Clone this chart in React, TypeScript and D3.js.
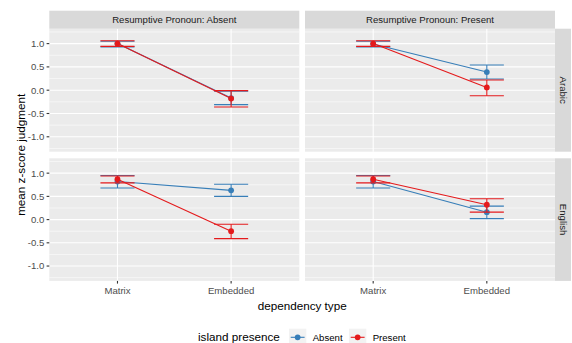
import React from 'react';
import { scaleLinear, scalePoint, line } from 'd3';

// facets
const rpLevels = ['Absent', 'Present']; // columns: Resumptive Pronoun
const languages = ['Arabic', 'English']; // rows
const dependencyTypes = ['Matrix', 'Embedded'];
const islandLevels = ['Absent', 'Present'];
const yTicks = [-1.0, -0.5, 0.0, 0.5, 1.0];
const yMinor = [-1.25, -0.75, -0.25, 0.25, 0.75, 1.25];

// panel order: Arabic/RP Absent, Arabic/RP Present, English/RP Absent, English/RP Present
const absentMean = [[1.0, -0.17], [0.99, 0.39], [0.82, 0.63], [0.82, 0.16]];
const absentLow = [[0.93, -0.31], [0.93, 0.24], [0.68, 0.5], [0.68, 0.02]];
const absentHigh = [[1.05, -0.02], [1.05, 0.54], [0.95, 0.76], [0.95, 0.29]];
const presentMean = [[1.0, -0.18], [1.0, 0.06], [0.87, -0.25], [0.87, 0.32]];
const presentLow = [[0.94, -0.36], [0.94, -0.12], [0.79, -0.41], [0.79, 0.16]];
const presentHigh = [[1.06, -0.01], [1.06, 0.22], [0.94, -0.1], [0.94, 0.45]];

const colors: any = { Absent: '#377EB8', Present: '#E41A1C' };
const font = '"Liberation Sans", Arial, Helvetica, sans-serif';

const W = 572;
const H = 343;
const colX = [[49.3, 299.3], [305, 555]];
const rowY = [[28.7, 151.7], [158.3, 280.9]];
const stripTop = 10.7;
const stripRight = 571;

export default function App() {
    const series = [
        { key: islandLevels[0], mean: absentMean, lo: absentLow, hi: absentHigh },
        { key: islandLevels[1], mean: presentMean, lo: presentLow, hi: presentHigh },
    ];

    const panels: any[] = [];
    languages.forEach((lang, r) => {
        rpLevels.forEach((rp, c) => {
            const idx = r * 2 + c;
            const x = scalePoint<string>().domain(dependencyTypes).range(colX[c]).padding(0.6);
            const y = scaleLinear().domain([-1.32, 1.32]).range([rowY[r][1], rowY[r][0]]);
            const step = x.step();
            const path = line<number>()
                .x((d, i) => x(dependencyTypes[i]) as number)
                .y((d) => y(d));
            panels.push(
                <g key={lang + rp}>
                    <rect x={colX[c][0]} y={rowY[r][0]} width={colX[c][1] - colX[c][0]} height={rowY[r][1] - rowY[r][0]} fill="#EBEBEB" />
                    {yMinor.map((t) => (
                        <line key={'m' + t} x1={colX[c][0]} x2={colX[c][1]} y1={y(t)} y2={y(t)} stroke="#fff" strokeWidth={0.55} />
                    ))}
                    {yTicks.map((t) => (
                        <line key={'g' + t} x1={colX[c][0]} x2={colX[c][1]} y1={y(t)} y2={y(t)} stroke="#fff" strokeWidth={1.1} />
                    ))}
                    {dependencyTypes.map((d) => (
                        <line key={'v' + d} x1={x(d)} x2={x(d)} y1={rowY[r][0]} y2={rowY[r][1]} stroke="#fff" strokeWidth={1.1} />
                    ))}
                    {series.map((s) => (
                        <g key={s.key}>
                            {dependencyTypes.map((d, i) => {
                                const cx = x(d) as number;
                                const hw = step * 0.15;
                                return (
                                    <g key={d} stroke={colors[s.key]} strokeWidth={1.1}>
                                        <line x1={cx - hw} x2={cx + hw} y1={y(s.hi[idx][i])} y2={y(s.hi[idx][i])} />
                                        <line x1={cx - hw} x2={cx + hw} y1={y(s.lo[idx][i])} y2={y(s.lo[idx][i])} />
                                        <line x1={cx} x2={cx} y1={y(s.lo[idx][i])} y2={y(s.hi[idx][i])} />
                                    </g>
                                );
                            })}
                            <path d={path(s.mean[idx]) || ''} fill="none" stroke={colors[s.key]} strokeWidth={1.1} />
                            {dependencyTypes.map((d, i) => (
                                <circle key={d} cx={x(d)} cy={y(s.mean[idx][i])} r={2.9} fill={colors[s.key]} />
                            ))}
                        </g>
                    ))}
                    {r === 0 && (
                        <g>
                            <rect x={colX[c][0]} y={stripTop} width={colX[c][1] - colX[c][0]} height={rowY[0][0] - stripTop} fill="#D9D9D9" />
                            <text x={(colX[c][0] + colX[c][1]) / 2} y={(stripTop + rowY[0][0]) / 2} dy="0.35em" textAnchor="middle" fontSize={9.6} fill="#1A1A1A">
                                Resumptive Pronoun: {rp}
                            </text>
                        </g>
                    )}
                    {c === 1 && (
                        <g>
                            <rect x={colX[1][1]} y={rowY[r][0]} width={stripRight - colX[1][1]} height={rowY[r][1] - rowY[r][0]} fill="#D9D9D9" />
                            <text
                                transform={`translate(${(colX[1][1] + stripRight) / 2},${(rowY[r][0] + rowY[r][1]) / 2}) rotate(90)`}
                                dy="0.35em"
                                textAnchor="middle"
                                fontSize={9.6}
                                fill="#1A1A1A"
                            >
                                {lang}
                            </text>
                        </g>
                    )}
                    {c === 0 &&
                        yTicks.map((t) => (
                            <g key={'yt' + t}>
                                <line x1={colX[0][0] - 2.7} x2={colX[0][0]} y1={y(t)} y2={y(t)} stroke="#333" strokeWidth={1.1} />
                                <text x={colX[0][0] - 5} y={y(t)} dy="0.35em" textAnchor="end" fontSize={9.6} fill="#4D4D4D">
                                    {t.toFixed(1)}
                                </text>
                            </g>
                        ))}
                    {r === 1 &&
                        dependencyTypes.map((d) => (
                            <g key={'xt' + d}>
                                <line x1={x(d)} x2={x(d)} y1={rowY[1][1]} y2={rowY[1][1] + 2.7} stroke="#333" strokeWidth={1.1} />
                                <text x={x(d)} y={rowY[1][1] + 5} dy="0.8em" textAnchor="middle" fontSize={9.6} fill="#4D4D4D">
                                    {d}
                                </text>
                            </g>
                        ))}
                </g>
            );
        });
    });

    // legend layout
    const legendY = 337.3;
    const keyW = 17.3;
    const keyX = [289, 349];

    return (
        <svg width={W} height={H} style={{ position: 'absolute', left: 0, top: 0 }} fontFamily={font}>
            <rect width={W} height={H} fill="#fff" />
            {panels}
            <text x={(colX[0][0] + colX[1][1]) / 2} y={310} textAnchor="middle" fontSize={11.7} fill="#000">
                dependency type
            </text>
            <text
                transform={`translate(21,${(rowY[0][0] + rowY[1][1]) / 2}) rotate(-90)`}
                dy="0.35em"
                textAnchor="middle"
                fontSize={11.7}
                fill="#000"
            >
                mean z-score judgment
            </text>
            <text x={198} y={legendY} dy="0.35em" fontSize={11.7} fill="#000">
                island presence
            </text>
            {islandLevels.map((k, i) => (
                <g key={k}>
                    <rect x={keyX[i]} y={legendY - keyW / 2} width={keyW} height={keyW} fill="#F2F2F2" />
                    <line x1={keyX[i] + 1.7} x2={keyX[i] + keyW - 1.7} y1={legendY} y2={legendY} stroke={colors[k]} strokeWidth={1.1} />
                    <circle cx={keyX[i] + keyW / 2} cy={legendY} r={2.9} fill={colors[k]} />
                    <text x={keyX[i] + keyW + 6.4} y={legendY} dy="0.35em" fontSize={9.6} fill="#000">
                        {k}
                    </text>
                </g>
            ))}
        </svg>
    );
}
